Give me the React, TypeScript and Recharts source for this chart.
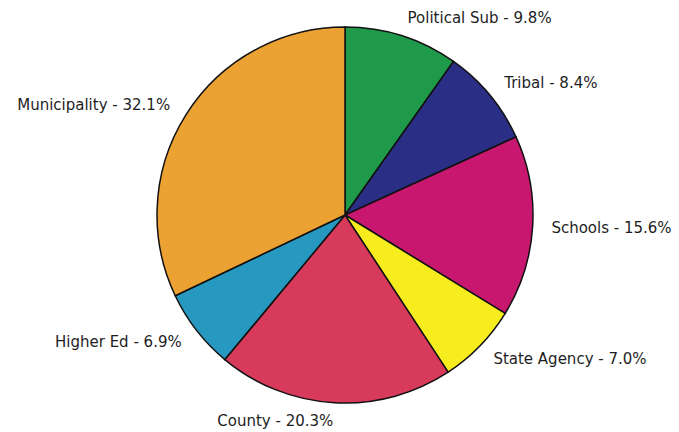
import { PieChart, Pie, Cell } from "recharts";

const categories = ["Political Sub", "Tribal", "Schools", "State Agency", "County", "Higher Ed", "Municipality"];
const shares = [9.8, 8.4, 15.6, 7.0, 20.3, 6.9, 32.1];
const colors = ["#1f9a4b", "#2a2f85", "#c7176f", "#f6ec1e", "#d83a5b", "#2798c0", "#eca133"];

const data = categories.map((name, i) => ({ name, value: shares[i] }));

const RADIAN = Math.PI / 180;

const renderLabel = (props: any) => {
  const { cx, cy, midAngle, outerRadius, name, value } = props;
  const r = outerRadius * 1.1;
  const x = cx + r * Math.cos(-midAngle * RADIAN);
  const y = cy + r * Math.sin(-midAngle * RADIAN);
  return (
    <text
      x={x}
      y={y}
      fill="#1e1e1e"
      fontSize={15}
      fontFamily="DejaVu Sans"
      textAnchor={x > cx ? "start" : "end"}
      dominantBaseline="central"
    >
      {`${name} - ${value.toFixed(1)}%`}
    </text>
  );
};

export default function App() {
  return (
    <div style={{ position: "absolute", left: 0, top: 0, background: "#fff" }}>
      <PieChart width={679} height={432} margin={{ top: 0, right: 0, bottom: 0, left: 0 }}>
        <Pie
          data={data}
          dataKey="value"
          nameKey="name"
          cx={345}
          cy={215}
          outerRadius={188}
          startAngle={90}
          endAngle={-270}
          stroke="#111"
          strokeWidth={1.5}
          label={renderLabel}
          labelLine={false}
          isAnimationActive={false}
        >
          {data.map((d, i) => (
            <Cell key={d.name} fill={colors[i]} />
          ))}
        </Pie>
      </PieChart>
    </div>
  );
}
